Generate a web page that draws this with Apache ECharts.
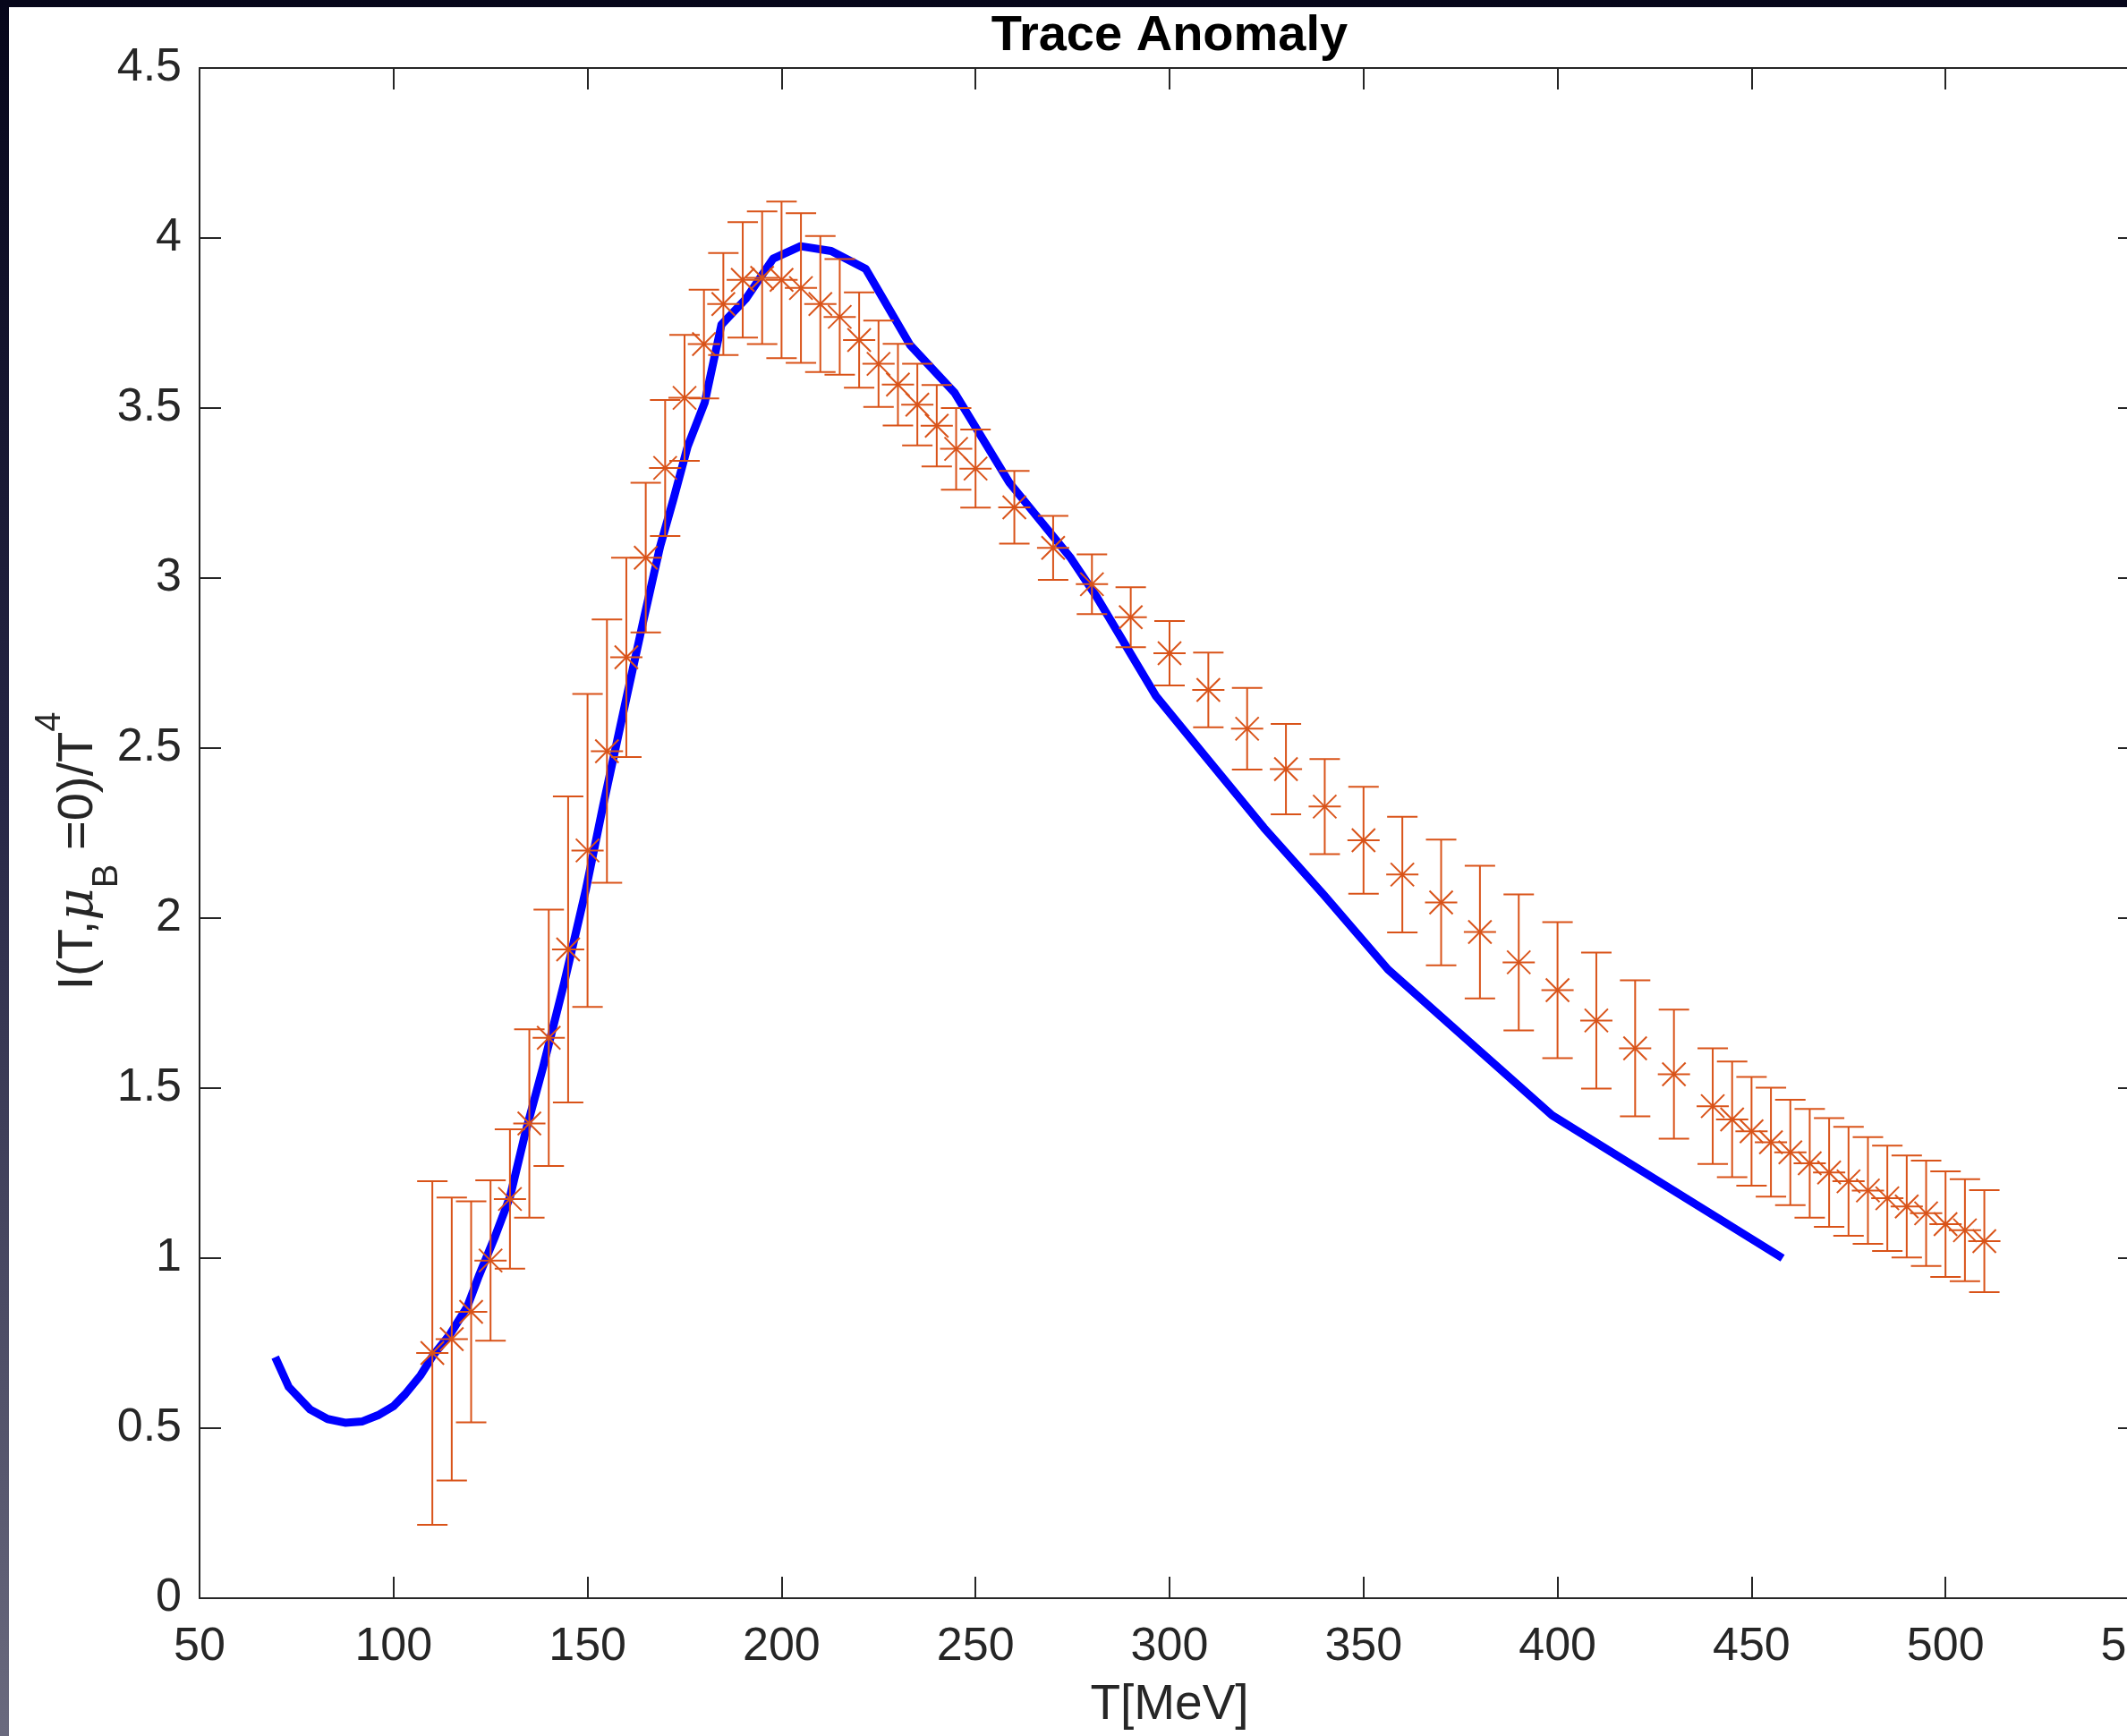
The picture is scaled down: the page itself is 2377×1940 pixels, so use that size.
<!DOCTYPE html>
<html>
<head>
<meta charset="utf-8">
<title>Trace Anomaly</title>
<script src="https://cdn.jsdelivr.net/npm/echarts@6/dist/echarts.min.js"></script>
<style>
    html, body {
        margin: 0;
        padding: 0;
        width: 2377px;
        height: 1940px;
        overflow: hidden;
        background: linear-gradient(to bottom, #06061a 0%, #262645 45%, #6a6a7e 100%);
    }
    #chart {
        position: absolute;
        left: 10px;
        top: 8px;
        width: 2460px;
        height: 1932px;
        background: #fff;
    }
</style>
</head>
<body>
<div id="chart"></div>
<script>
// lattice points (orange, with error bars)
var latticeT = [
    110, 115, 120, 125, 130, 135, 140, 145, 150, 155, 160, 165, 170, 175, 180, 185,
    190, 195, 200, 205, 210, 215, 220, 225, 230, 235, 240, 245, 250,
    260, 270, 280, 290, 300, 310, 320, 330, 340, 350, 360, 370, 380, 390, 400,
    410, 420, 430,
    440, 445, 450, 455, 460, 465, 470, 475, 480, 485, 490, 495, 500, 505, 510
];
var latticeI = [
    0.721, 0.762, 0.842, 0.993, 1.174, 1.396, 1.648, 1.908, 2.199, 2.491, 2.767, 3.060, 3.324, 3.530, 3.688, 3.806,
    3.877, 3.883, 3.877, 3.853, 3.806, 3.768, 3.700, 3.630, 3.569, 3.510, 3.448, 3.380, 3.322,
    3.208, 3.089, 2.982, 2.885, 2.779, 2.671, 2.557, 2.438, 2.328, 2.229, 2.128, 2.046, 1.959, 1.870, 1.788,
    1.699, 1.617, 1.541,
    1.447, 1.408, 1.373, 1.341, 1.311, 1.279, 1.252, 1.226, 1.199, 1.176, 1.152, 1.132, 1.100, 1.082, 1.050
];
var latticeErr = [
    0.505, 0.416, 0.325, 0.236, 0.205, 0.277, 0.377, 0.450, 0.460, 0.387, 0.293, 0.220, 0.200, 0.185, 0.160, 0.150,
    0.170, 0.195, 0.230, 0.220, 0.200, 0.170, 0.140, 0.127, 0.120, 0.120, 0.120, 0.120, 0.115,
    0.107, 0.094, 0.088, 0.088, 0.095, 0.110, 0.120, 0.133, 0.140, 0.157, 0.170, 0.185, 0.195, 0.200, 0.200,
    0.200, 0.200, 0.190,
    0.170, 0.170, 0.160, 0.160, 0.155, 0.160, 0.160, 0.160, 0.157, 0.155, 0.150, 0.155, 0.155, 0.150, 0.150
];

// model curve (blue)
var modelT = [
    69.5, 73, 78.5, 83, 87.5, 92, 96, 100, 103, 107, 110, 114.6, 119, 122, 126, 130, 134, 138.5,
    144, 149.5, 154, 160, 164.3, 168.7, 172.2, 175.8, 180.2, 184.5, 190.8, 197.8, 204.9, 212.8,
    221.7, 233.1, 244.6, 258.7, 274.6, 281.1, 296.5, 309.9, 324.3, 339.8, 356.3, 398.6, 458
];
var modelI = [
    0.709, 0.621, 0.555, 0.527, 0.516, 0.520, 0.538, 0.565, 0.600, 0.656, 0.711, 0.777, 0.857, 0.948, 1.059, 1.180, 1.370, 1.560,
    1.810, 2.080, 2.330, 2.646, 2.870, 3.093, 3.234, 3.387, 3.516, 3.745, 3.821, 3.939, 3.976, 3.962,
    3.909, 3.686, 3.545, 3.281, 3.058, 2.947, 2.653, 2.466, 2.266, 2.068, 1.849, 1.420, 1.000
];

var xTicks = [50, 550, 50];   // min, max, step
var yTicks = [0, 4.5, 0.5];

var FONT = '"Liberation Sans", Arial, Helvetica, sans-serif';
var AXIS_COLOR = '#262626';
var ORANGE = '#D95319';

var chart = echarts.init(document.getElementById('chart'));

function seg(x1, y1, x2, y2) {
    return {
        type: 'line',
        shape: {x1: x1, y1: y1, x2: x2, y2: y2},
        style: {stroke: ORANGE, lineWidth: 2, fill: null}
    };
}

// 误差棒 + 星号
function renderErrorBar(params, api) {
    var t = api.value(0);
    var v = api.value(1);
    var e = api.value(2);
    var p = api.coord([t, v]);
    var hi = api.coord([t, v + e]);
    var lo = api.coord([t, v - e]);
    var cap = 17;
    var arm = 18;
    var dg = 13;
    return {
        type: 'group',
        children: [
            seg(p[0], hi[1], p[0], lo[1]),
            seg(p[0] - cap, hi[1], p[0] + cap, hi[1]),
            seg(p[0] - cap, lo[1], p[0] + cap, lo[1]),
            seg(p[0] - arm, p[1], p[0] + arm, p[1]),
            seg(p[0] - dg, p[1] - dg, p[0] + dg, p[1] + dg),
            seg(p[0] - dg, p[1] + dg, p[0] + dg, p[1] - dg)
        ]
    };
}

function axisBase(range, extra) {
    var base = {
        type: 'value',
        min: range[0],
        max: range[1],
        interval: range[2],
        axisLine: {show: true, onZero: false, lineStyle: {color: AXIS_COLOR, width: 2}},
        axisTick: {show: true, inside: true, length: 24, lineStyle: {color: AXIS_COLOR, width: 2}},
        splitLine: {show: false}
    };
    for (var k in extra) {
        base[k] = extra[k];
    }
    return base;
}

var option = {
    animation: false,
    backgroundColor: '#fff',
    title: {
        text: 'Trace Anomaly',
        left: 1297,
        top: 5,
        textAlign: 'center',
        padding: 0,
        textStyle: {fontSize: 56, fontWeight: 'bold', color: '#000', fontFamily: FONT}
    },
    grid: {
        left: 213,
        top: 68,
        width: 2168,
        height: 1710,
        containLabel: false,
        outerBoundsMode: 'none'
    },
    xAxis: [
        axisBase(xTicks, {
            position: 'bottom',
            axisLabel: {margin: 29, fontSize: 52, color: AXIS_COLOR, fontFamily: FONT},
            name: 'T[MeV]',
            nameLocation: 'middle',
            nameGap: 92,
            nameMoveOverlap: false,
            nameTextStyle: {fontSize: 55, color: AXIS_COLOR, fontFamily: FONT}
        }),
        axisBase(xTicks, {position: 'top', axisLabel: {show: false}})
    ],
    yAxis: [
        axisBase(yTicks, {
            position: 'left',
            axisLabel: {margin: 20, fontSize: 52, color: AXIS_COLOR, fontFamily: FONT},
            name: '{a|I(T,}{mu|\u03BC}{sub|B}{a| =0)/T}{sup|4}',
            nameLocation: 'middle',
            nameRotate: 90,
            nameGap: 83,
            nameMoveOverlap: false,
            nameTextStyle: {
                fontSize: 56,
                color: AXIS_COLOR,
                fontFamily: FONT,
                rich: {
                    a: {fontSize: 56, lineHeight: 104, color: AXIS_COLOR, fontFamily: FONT},
                    mu: {fontSize: 56, lineHeight: 104, fontStyle: 'italic', color: AXIS_COLOR, fontFamily: '"DejaVu Serif", serif'},
                    sub: {fontSize: 40, lineHeight: 66, verticalAlign: 'bottom', color: AXIS_COLOR, fontFamily: FONT},
                    sup: {fontSize: 40, lineHeight: 42, verticalAlign: 'top', padding: [0, 40, 0, 0], color: AXIS_COLOR, fontFamily: FONT}
                }
            }
        }),
        axisBase(yTicks, {position: 'right', axisLabel: {show: false}})
    ],
    series: [
        {
            name: 'model',
            type: 'line',
            xAxisIndex: 0,
            yAxisIndex: 0,
            data: modelT.map(function (t, i) {
                return [t, modelI[i]];
            }),
            showSymbol: false,
            symbol: 'none',
            smooth: false,
            lineStyle: {color: '#0000FF', width: 9, cap: 'butt', join: 'round'},
            z: 2
        },
        {
            name: 'lattice',
            type: 'custom',
            xAxisIndex: 0,
            yAxisIndex: 0,
            renderItem: renderErrorBar,
            data: latticeT.map(function (t, i) {
                return [t, latticeI[i], latticeErr[i]];
            }),
            encode: {x: 0, y: 1},
            z: 3
        }
    ]
};

chart.setOption(option);
</script>
</body>
</html>
